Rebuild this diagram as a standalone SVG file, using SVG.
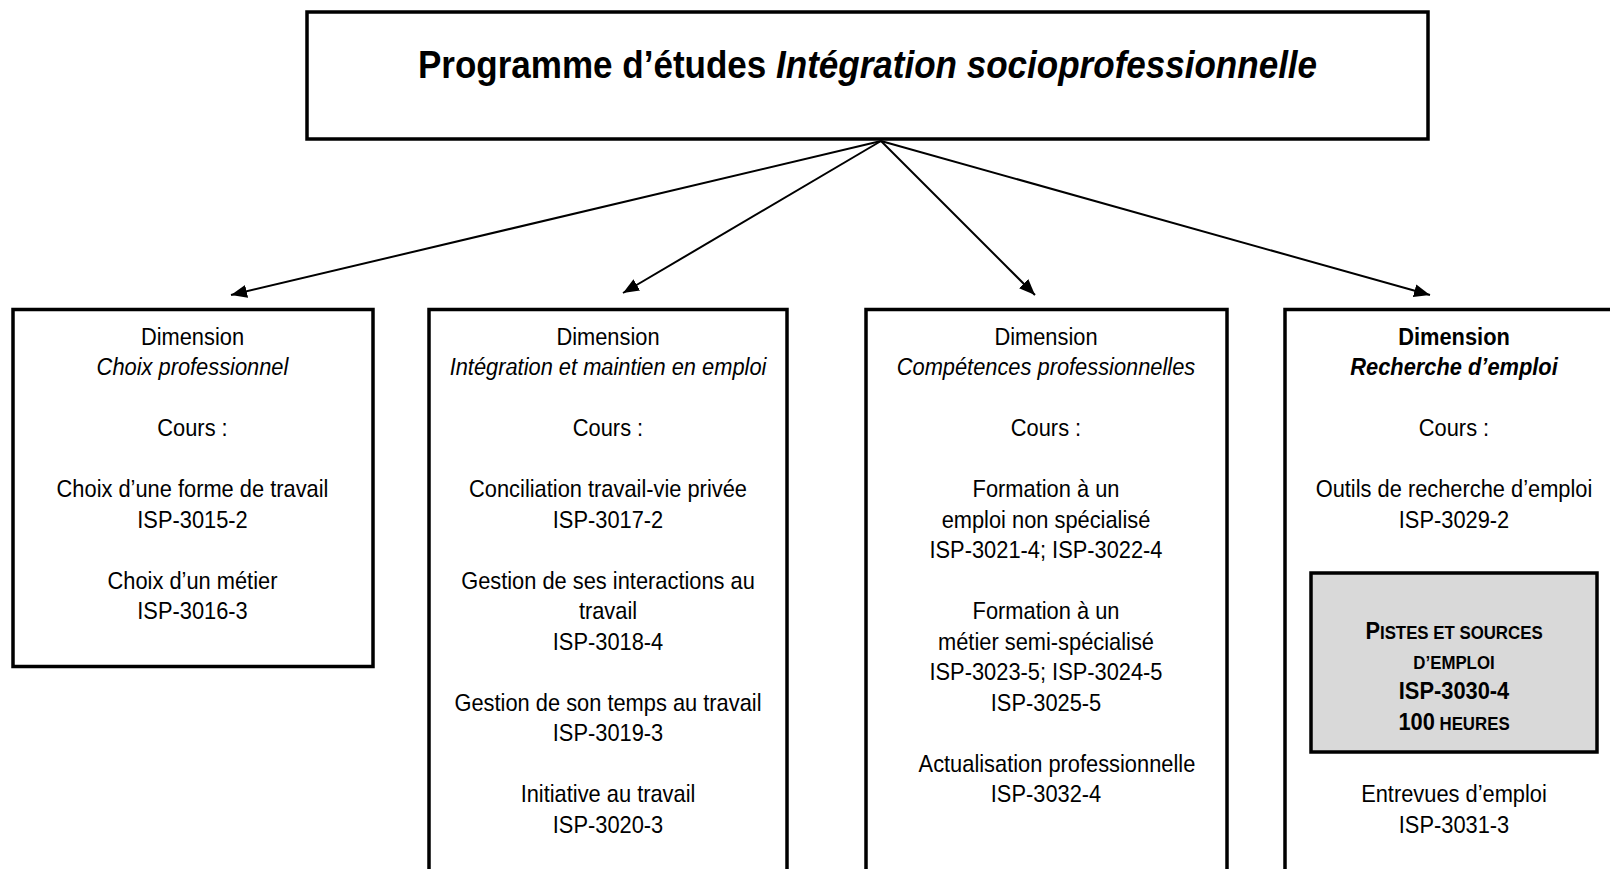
<svg xmlns="http://www.w3.org/2000/svg" width="1610" height="869" viewBox="0 0 1610 869">
<defs>
<style>
text{font-family:"Liberation Sans",Arial,sans-serif;font-size:24px;fill:#000;text-anchor:middle}
.box{fill:#fff;stroke:#000;stroke-width:3.5}
.gray{fill:#d9d9d9;stroke:#000;stroke-width:3.5}
.it{font-style:italic}
.b{font-weight:bold}
.sc{font-size:18.5px}
.title{font-size:38.5px;font-weight:bold}
.conn line{stroke:#000;stroke-width:2;fill:none}
</style>
<marker id="arr" markerUnits="userSpaceOnUse" markerWidth="17" markerHeight="13" refX="16" refY="6.5" orient="auto">
<path d="M0,0 L16,6.5 L0,13 Z" fill="#000"/>
</marker>
</defs>
<rect width="1610" height="869" fill="#fff"/>

<g id="connectors" class="conn">
<line x1="881" y1="141" x2="231" y2="295" marker-end="url(#arr)"/>
<line x1="881" y1="141" x2="623" y2="293" marker-end="url(#arr)"/>
<line x1="881" y1="141" x2="1035" y2="295" marker-end="url(#arr)"/>
<line x1="881" y1="141" x2="1430" y2="295" marker-end="url(#arr)"/>
</g>

<g id="programme">
<rect class="box" x="307" y="12" width="1121" height="127"/>
<g transform="translate(867.5,0) scale(0.91,1)">
<text class="title" x="0" y="78">Programme d’études <tspan class="it">Intégration socioprofessionnelle</tspan></text>
</g>
</g>

<g id="choix-professionnel">
<rect class="box" x="13" y="309.5" width="360" height="357"/>
<g transform="translate(192.5,0) scale(0.91,1)">
<text x="0" y="345">Dimension</text>
<text class="it" x="0" y="375.5">Choix professionnel</text>
<text x="0" y="436.5">Cours :</text>
<text x="0" y="497.5">Choix d’une forme de travail</text>
<text x="0" y="528">ISP-3015-2</text>
<text x="0" y="589">Choix d’un métier</text>
<text x="0" y="619.5">ISP-3016-3</text>
</g>
</g>

<g id="integration-maintien">
<rect class="box" x="429" y="309.5" width="358" height="580"/>
<g transform="translate(608,0) scale(0.91,1)">
<text x="0" y="345">Dimension</text>
<text class="it" x="0" y="375.5">Intégration et maintien en emploi</text>
<text x="0" y="436.5">Cours :</text>
<text x="0" y="497.5">Conciliation travail-vie privée</text>
<text x="0" y="528">ISP-3017-2</text>
<text x="0" y="589">Gestion de ses interactions au</text>
<text x="0" y="619.5">travail</text>
<text x="0" y="650">ISP-3018-4</text>
<text x="0" y="711">Gestion de son temps au travail</text>
<text x="0" y="741.5">ISP-3019-3</text>
<text x="0" y="802.5">Initiative au travail</text>
<text x="0" y="833">ISP-3020-3</text>
</g>
</g>

<g id="competences-professionnelles">
<rect class="box" x="866" y="309.5" width="361" height="580"/>
<g transform="translate(1046,0) scale(0.91,1)">
<text x="0" y="345">Dimension</text>
<text class="it" x="0" y="375.5">Compétences professionnelles</text>
<text x="0" y="436.5">Cours :</text>
<text x="0" y="497.5">Formation à un</text>
<text x="0" y="528">emploi non spécialisé</text>
<text x="0" y="558.5">ISP-3021-4; ISP-3022-4</text>
<text x="0" y="619.5">Formation à un</text>
<text x="0" y="650">métier semi-spécialisé</text>
<text x="0" y="680.5">ISP-3023-5; ISP-3024-5</text>
<text x="0" y="711">ISP-3025-5</text>
<text x="12" y="772">Actualisation professionnelle</text>
<text x="0" y="802.5">ISP-3032-4</text>
</g>
</g>

<g id="recherche-emploi">
<rect class="box" x="1285" y="309.5" width="360" height="580"/>
<g transform="translate(1454,0) scale(0.91,1)">
<text class="b" x="0" y="345">Dimension</text>
<text class="b it" x="0" y="375.5">Recherche d’emploi</text>
<text x="0" y="436.5">Cours :</text>
<text x="0" y="497.5">Outils de recherche d’emploi</text>
<text x="0" y="528">ISP-3029-2</text>
<text x="0" y="802.5">Entrevues d’emploi</text>
<text x="0" y="833">ISP-3031-3</text>
</g>
</g>

<g id="pistes-sources">
<rect class="gray" x="1311" y="573" width="286" height="179"/>
<g transform="translate(1454,0) scale(0.91,1)">
<text class="b" x="0" y="639">P<tspan class="sc">ISTES ET SOURCES</tspan></text>
<text class="b sc" x="0" y="669">D’EMPLOI</text>
<text class="b" x="0" y="699">ISP-3030-4</text>
<text class="b" x="0" y="730">100<tspan class="sc"> HEURES</tspan></text>
</g>
</g>
</svg>
